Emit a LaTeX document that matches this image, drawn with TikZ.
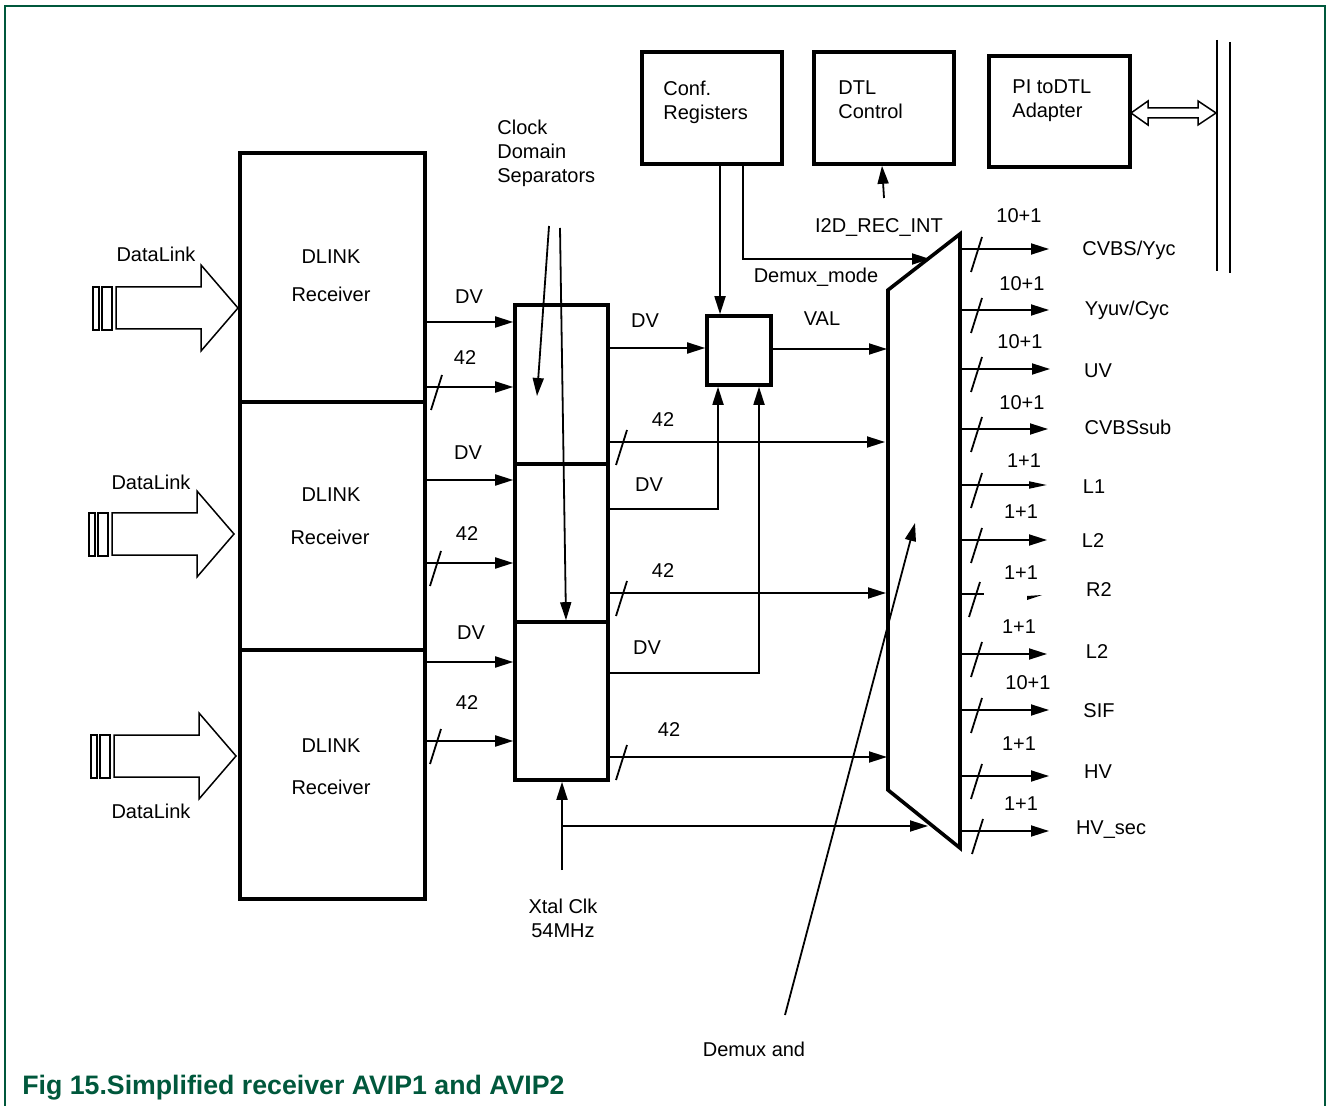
\documentclass[tikz,border=0pt]{standalone}
\usepackage{fontspec}
\setmainfont{Liberation Sans}
\usetikzlibrary{arrows.meta,fit,calc}
\definecolor{nxpgreen}{RGB}{0,88,60}
\begin{document}
\begin{tikzpicture}[x=0.5pt,y=-0.5pt,
  font=\fontsize{10pt}{12pt}\selectfont,
  thickbox/.style={draw,line width=1.8pt,inner sep=0pt},
  wire/.style={line width=0.9pt},
  arr/.style={wire,-{Triangle[length=9pt,width=5.5pt]}},
  lbl/.style={inner sep=0pt,text height=7.2pt,text depth=0pt},
  mlbl/.style={inner sep=0pt,align=left,anchor=west},
  slash/.pic={\draw[wire] (-7,23) -- (4,-12);},
  dlink/.pic={
    \draw[line width=0.75pt] (0,-21) rectangle (6,22);
    \draw[line width=0.75pt] (9,-21) rectangle (19,22);
    \draw[line width=0.75pt] (23,-21) -- (108,-21) -- (108,-43) -- (145,0)
      -- (108,43) -- (108,21) -- (23,21) -- cycle;},
  hollowbi/.style={line width=0.75pt}
]
\useasboundingbox (0,0) rectangle (1327,1106);
% frame
\draw[nxpgreen,line width=1pt] (5,1106) -- (5,6) -- (1325,6) -- (1325,1106);

% receivers
\node[thickbox,fit={(240,153)(425,402)}] (r1) {};
\node[thickbox,fit={(240,402)(425,650)}] (r2) {};
\node[thickbox,fit={(240,650)(425,899)}] (r3) {};
\node[lbl] (r1a) at (331,256) {DLINK};
\node[lbl] (r1b) at (331,294) {Receiver};
\node[lbl] (r2a) at (331,494) {DLINK};
\node[lbl] (r2b) at (330,537) {Receiver};
\node[lbl] (r3a) at (331,745) {DLINK};
\node[lbl] (r3b) at (331,787) {Receiver};

% DataLink inputs
\pic at (93,308) {dlink};
\pic at (89,534) {dlink};
\pic at (91,756) {dlink};
\node[lbl] (d1) at (156,254) {DataLink};
\node[lbl] (d2) at (151,482) {DataLink};
\node[lbl] (d3) at (151,811) {DataLink};

% clock domain separators
\node[thickbox,fit={(515,305)(608,464)}] (s1) {};
\node[thickbox,fit={(515,464)(608,622)}] (s2) {};
\node[thickbox,fit={(515,622)(608,780)}] (s3) {};
\node[mlbl] (cds) at (497,153) {Clock\\Domain\\Separators};
\coordinate (c1) at (549,226);
\coordinate (c2) at (560,228);
\draw[arr] (c1) -- (537,396);
\draw[arr] (c2) -- (s3.north -| 566,0);

% receivers -> separators
\draw[arr] (r1.east |- 0,322) -- (s1.west |- 0,322);
\draw[arr] (r1.east |- 0,387) -- (s1.west |- 0,387);
\pic at (438,387) {slash};
\node[lbl] at (469,296) {DV};
\node[lbl] at (465,357) {42};
\draw[arr] (r2.east |- 0,480) -- (s2.west |- 0,480);
\draw[arr] (r2.east |- 0,563) -- (s2.west |- 0,563);
\pic at (437,563) {slash};
\node[lbl] at (468,452) {DV};
\node[lbl] at (467,533) {42};
\draw[arr] (r3.east |- 0,662) -- (s3.west |- 0,662);
\draw[arr] (r3.east |- 0,741) -- (s3.west |- 0,741);
\pic at (437,741) {slash};
\node[lbl] at (471,632) {DV};
\node[lbl] at (467,702) {42};

% top blocks
\node[thickbox,fit={(642,52)(782,164)}] (conf) {};
\node[mlbl] at (663,102) {Conf.\\Registers};
\node[thickbox,fit={(814,52)(954,164)}] (dtl) {};
\node[mlbl] at (838,100) {DTL\\Control};
\node[thickbox,fit={(989,56)(1130,167)}] (pi) {};
\node[mlbl] at (1012,101) {PI toDTL\\Adapter};

% bus
\draw[line width=1pt] (1217,40) -- (1217,271);
\draw[line width=1pt] (1230,42) -- (1230,273);
\draw[hollowbi] (1131,113) -- (1148,101) -- (1148,108) -- (1198,108) -- (1198,101)
  -- (1216,113) -- (1198,125) -- (1198,118) -- (1148,118) -- (1148,125) -- cycle;

% VAL box
\node[thickbox,fit={(707,316)(771,385)}] (val) {};

% demux
\draw[line width=1.8pt] (888,290) -- (960,234) -- (960,848) -- (888,790) -- cycle;
\coordinate (dmx) at (888,0);
\coordinate (dmxr) at (960,0);

% separators -> val / demux
\draw[arr] (s1.east |- 0,348) -- (val.west |- 0,348);
\node[lbl] at (645,320) {DV};
\draw[arr] (s1.east |- 0,442) -- (885,442);
\pic at (623,442) {slash};
\node[lbl] at (663,419) {42};
\draw[arr] (s2.east |- 0,509) -| (val.south -| 718,0);
\node[lbl] at (649,484) {DV};
\draw[arr] (s2.east |- 0,593) -- (886,593);
\pic at (623,593) {slash};
\node[lbl] at (663,570) {42};
\draw[arr] (s3.east |- 0,673) -| (val.south -| 759,0);
\node[lbl] at (647,647) {DV};
\draw[arr] (s3.east |- 0,757) -- (887,757);
\pic at (623,757) {slash};
\node[lbl] at (669,729) {42};

\draw[arr] (val.east |- 0,349) -- (887,349);
\node[lbl] at (822,318) {VAL};

% conf registers
\draw[arr] (conf.south -| 720,0) -- (val.north -| 720,0);
\draw[arr] (conf.south -| 743,0) -- (743,259) -- (930,259);
\node[lbl] at (816,275) {Demux\_mode};

% I2D
\coordinate (i2d) at (884,198);
\draw[arr] (i2d) -- (dtl.south -| 882,0);
\node[lbl] at (879,225) {I2D\_REC\_INT};

% Xtal clock
\coordinate (xt) at (562,870);
\draw[arr] (xt) -- (s3.south -| 562,0);
\draw[arr] (562,826) -- (928,826);
\node[inner sep=0pt,align=center] at (563,918) {Xtal Clk\\54MHz};

% Demux and
\coordinate (dm) at (785,1015);
\draw[arr] (dm) -- (915,523);
\node[lbl] at (754,1049) {Demux and};

% outputs
\draw[arr] (dmxr |- 0,249) -- (1049,249); \pic at (978,249) {slash};
\node[lbl] at (1019,215) {10+1}; \node[lbl] at (1129,248) {CVBS/Yyc};
\draw[arr] (dmxr |- 0,310) -- (1049,310); \pic at (978,310) {slash};
\node[lbl] at (1022,283) {10+1}; \node[lbl] at (1127,308) {Yyuv/Cyc};
\draw[arr] (dmxr |- 0,369) -- (1050,369); \pic at (978,369) {slash};
\node[lbl] at (1020,341) {10+1}; \node[lbl] at (1098,370) {UV};
\draw[arr] (dmxr |- 0,429) -- (1048,429); \pic at (978,429) {slash};
\node[lbl] at (1022,402) {10+1}; \node[lbl] at (1128,427) {CVBSsub};
\draw[wire,-{Triangle[length=9pt,width=3.5pt]}] (dmxr |- 0,485) -- (1047,485); \pic at (978,485) {slash};
\node[lbl] at (1024,460) {1+1}; \node[lbl] at (1094,486) {L1};
\draw[arr] (dmxr |- 0,540) -- (1047,540); \pic at (978,540) {slash};
\node[lbl] at (1021,511) {1+1}; \node[lbl] at (1093,540) {L2};
\draw[wire] (dmxr |- 0,594) -- (984,594); \pic at (976,594) {slash};
\fill (1027,596) -- (1042,595) -- (1027,600) -- cycle;
\node[lbl] at (1021,572) {1+1}; \node[lbl] at (1099,589) {R2};
\draw[arr] (dmxr |- 0,654) -- (1047,654); \pic at (978,654) {slash};
\node[lbl] at (1019,626) {1+1}; \node[lbl] at (1097,651) {L2};
\draw[arr] (dmxr |- 0,710) -- (1049,710); \pic at (978,710) {slash};
\node[lbl] at (1028,682) {10+1}; \node[lbl] at (1099,710) {SIF};
\draw[arr] (dmxr |- 0,776) -- (1049,776); \pic at (978,776) {slash};
\node[lbl] at (1019,743) {1+1}; \node[lbl] at (1098,771) {HV};
\draw[arr] (dmxr |- 0,831) -- (1049,831); \pic at (979,831) {slash};
\node[lbl] at (1021,803) {1+1}; \node[lbl] at (1111,827) {HV\_sec};

% caption
\node[anchor=west,inner sep=0pt,font=\bfseries\fontsize{13.35pt}{15pt}\selectfont,text=nxpgreen]
  at (22,1088) {Fig 15.Simplified receiver AVIP1 and AVIP2};
\end{tikzpicture}
\end{document}
